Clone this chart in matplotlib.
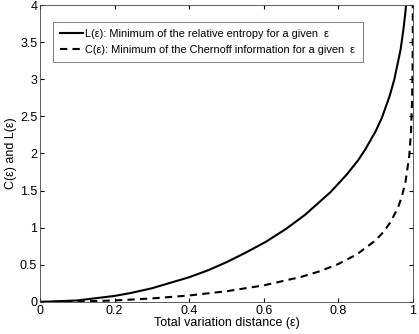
import numpy as np
import matplotlib
matplotlib.use('Agg')
import matplotlib.pyplot as plt

plt.rcParams['font.family'] = ['Liberation Sans', 'DejaVu Sans']

# L(eps): minimum relative entropy for a given total variation distance
eps_L = [0, 0.1, 0.2, 0.243, 0.3, 0.4, 0.451, 0.5, 0.55, 0.606, 0.66, 0.711,
         0.779, 0.823, 0.853, 0.873, 0.900, 0.917, 0.9375, 0.95, 0.967,
         0.975, 0.98, 0.9833]
L_vals = [0, 0.020, 0.081, 0.120, 0.184, 0.333, 0.427, 0.535, 0.660, 0.811,
          0.985, 1.175, 1.479, 1.719, 1.908, 2.061, 2.299, 2.484, 2.773,
          2.996, 3.401, 3.689, 3.912, 4.094]

# C(eps): minimum Chernoff information for a given total variation distance
eps_C = [0, 0.1, 0.2, 0.3, 0.4, 0.5, 0.6, 0.7, 0.75, 0.8, 0.85, 0.9, 0.92,
         0.94, 0.96, 0.97, 0.98, 0.99, 0.995, 0.998, 0.999, 0.9995, 0.9998,
         0.99985]
C_vals = [0, 0.005, 0.020, 0.047, 0.087, 0.144, 0.223, 0.337, 0.413, 0.511,
          0.642, 0.830, 0.937, 1.075, 1.273, 1.414, 1.615, 1.959, 2.304,
          2.761, 3.108, 3.454, 3.912, 4.056]

fig = plt.figure(figsize=(4.19, 3.34), dpi=100)
ax = fig.add_axes([0.0955, 0.096, 0.89, 0.889])

ax.plot(eps_L, L_vals, 'k-', lw=1.5,
        label='L(ε): Minimum of the relative entropy for a given  ε')
ax.plot(eps_C, C_vals, 'k--', lw=1.5, dashes=(3.5, 2.5),
        label='C(ε): Minimum of the Chernoff information for a given  ε')

ax.set_xlim(0, 1)
ax.set_ylim(0, 4)
ax.set_xticks([0, 0.2, 0.4, 0.6, 0.8, 1])
ax.set_xticklabels(['0', '0.2', '0.4', '0.6', '0.8', '1'])
ax.set_yticks([0, 0.5, 1, 1.5, 2, 2.5, 3, 3.5, 4])
ax.set_yticklabels(['0', '0.5', '1', '1.5', '2', '2.5', '3', '3.5', '4'])
ax.tick_params(direction='in', top=True, right=True, labelsize=9,
               length=3, pad=2)
for s in ax.spines.values():
    s.set_linewidth(0.6)
    s.set_color('#444444')

ax.set_xlabel('Total variation distance (ε)', fontsize=9, labelpad=0)
ax.set_ylabel('C(ε) and L(ε)', fontsize=9, labelpad=2)

leg = ax.legend(loc='upper left', bbox_to_anchor=(0.035, 0.943), fontsize=7.9,
                frameon=True, fancybox=False, edgecolor='#444444',
                handlelength=2.1, handletextpad=0.2, borderpad=0.65,
                labelspacing=0.55, borderaxespad=0)
leg.get_frame().set_linewidth(0.6)

fig.savefig('out.png', dpi=100)
